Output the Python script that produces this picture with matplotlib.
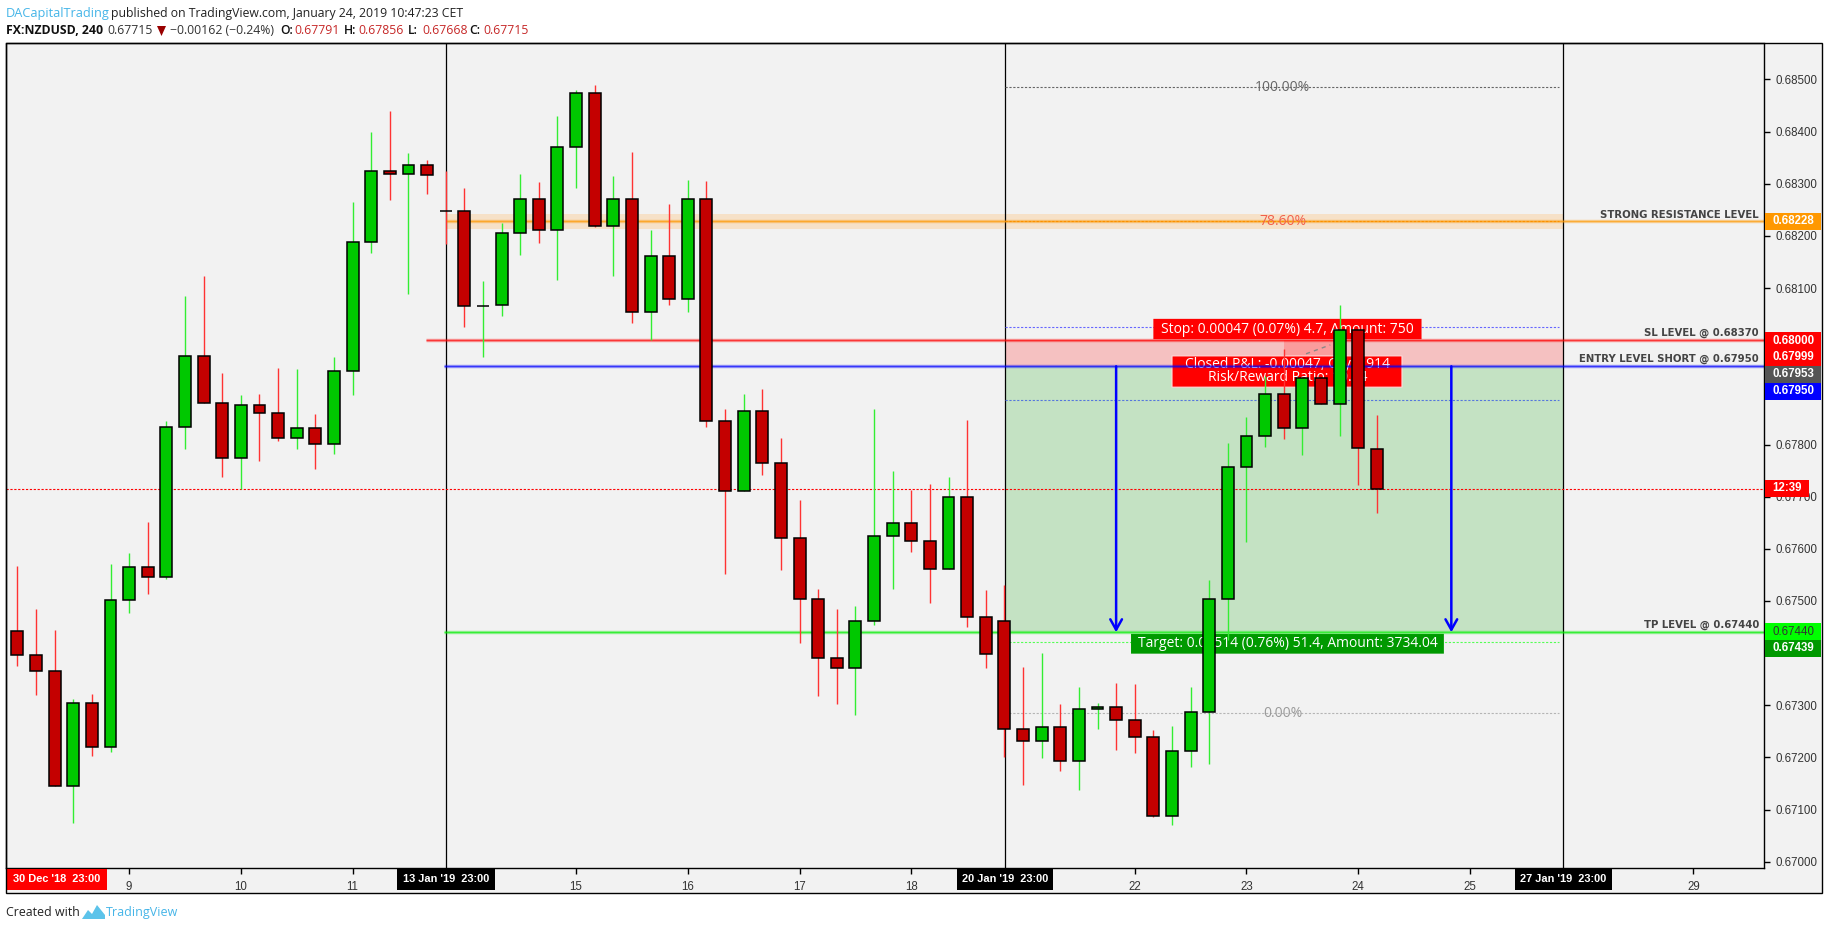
#!/usr/bin/env python3
"""NZDUSD 4h chart with a short position drawn on it (TradingView snapshot)."""
import matplotlib
matplotlib.use("Agg")
import matplotlib.pyplot as plt
from matplotlib.patches import Rectangle, FancyBboxPatch, Polygon

# ─── candles (one entry per 4h bar) ─────────────────────────────────
opens = [
    .67442, .67396, .67365, .67145, .67304, .67220, .67501, .67565, .67546, .67833,
    .67969, .67879, .67774, .67875, .67860, .67812, .67831, .67801, .67941, .68188,
    .68324, .68318, .68336, .68248, .68247, .68065, .68067, .68205, .68270, .68211,
    .68370, .68474, .68220, .68270, .68054, .68161, .68079, .68270, .67845, .67710,
    .67864, .67764, .67620, .67503, .67390, .67371, .67461, .67624, .67649, .67615,
    .67561, .67699, .67469, .67461, .67254, .67231, .67258, .67193, .67292, .67296,
    .67271, .67239, .67087, .67212, .67287, .67503, .67756, .67816, .67896, .67831,
    .67927, .67877, .68019, .67791,
]
highs = [
    .67567, .67485, .67444, .67312, .67322, .67571, .67592, .67652, .67845, .68084,
    .68123, .67937, .67895, .67897, .67947, .67945, .67859, .67968, .68266, .68399,
    .68440, .68359, .68346, .68325, .68292, .68114, .68225, .68319, .68304, .68430,
    .68480, .68490, .68315, .68361, .68211, .68262, .68308, .68306, .67868, .67897,
    .67907, .67813, .67694, .67523, .67485, .67491, .67868, .67749, .67713, .67724,
    .67738, .67847, .67521, .67531, .67374, .67400, .67303, .67335, .67305, .67343,
    .67341, .67253, .67260, .67335, .67540, .67803, .67853, .67932, .67983, .67927,
    .67927, .68068, .68019, .67856,
]
lows = [
    .67376, .67319, .67145, .67075, .67203, .67211, .67477, .67514, .67542, .67792,
    .67879, .67738, .67714, .67769, .67807, .67792, .67754, .67782, .67895, .68168,
    .68268, .68089, .68281, .68185, .68026, .67967, .68047, .68164, .68187, .68116,
    .68291, .68218, .68124, .68034, .68001, .68067, .68055, .67834, .67552, .67710,
    .67742, .67560, .67420, .67318, .67303, .67282, .67454, .67523, .67594, .67496,
    .67561, .67450, .67372, .67201, .67147, .67199, .67174, .67138, .67255, .67214,
    .67209, .67085, .67071, .67182, .67188, .67425, .67613, .67796, .67811, .67779,
    .67877, .67817, .67723, .67668,
]
closes = [
    .67396, .67365, .67145, .67304, .67220, .67501, .67565, .67546, .67833, .67969,
    .67879, .67774, .67875, .67860, .67812, .67831, .67801, .67941, .68188, .68324,
    .68318, .68336, .68316, .68247, .68066, .68066, .68205, .68270, .68211, .68370,
    .68474, .68220, .68270, .68054, .68161, .68079, .68270, .67845, .67710, .67864,
    .67764, .67620, .67503, .67390, .67371, .67461, .67624, .67649, .67615, .67561,
    .67699, .67469, .67398, .67254, .67231, .67258, .67193, .67292, .67296, .67271,
    .67239, .67087, .67212, .67287, .67503, .67756, .67816, .67896, .67831, .67927,
    .67877, .68019, .67793, .67715,
]

# ─── levels ─────────────────────────────────────────────────────────
resistance = 0.68228
resistance_band = (0.68214, 0.68243)
stop_level = 0.68000
entry_level = 0.67950
target_level = 0.67440
last_price = 0.67715
fib_100 = 0.68485
fib_0 = 0.67285
stop_dotted = 0.68026
closed_dotted = 0.67886
target_dotted = 0.67421

# ─── axes labels ────────────────────────────────────────────────────
price_ticks = [.670, .671, .672, .673, .674, .675, .676, .677, .678, .679, .680, .681, .682, .683, .684, .685]
hidden_ticks = [.674, .679, .680]
day_bars = [6, 12, 18, 30, 36, 42, 48, 60, 66, 72, 78, 90]
day_labels = ["9", "10", "11", "15", "16", "17", "18", "22", "23", "24", "25", "29"]
week_bars = [23.04, 53.04, 83.0]
week_labels = ["13 Jan '19  23:00", "20 Jan '19  23:00", "27 Jan '19  23:00"]

W, H = 1828, 930
L, R, T, B = 6, 1764, 43.5, 868
FRAME_R, FRAME_B = 1821.7, 893.3
UI = ["Open Sans", "DejaVu Sans"]
TAG_FONT = "Liberation Sans"

GREEN_BODY, RED_BODY = "#00c800", "#c40000"
GREEN_WICK, RED_WICK = "#33ee33", "#ff3333"

plt.rcParams["font.family"] = UI

fig = plt.figure(figsize=(W / 100, H / 100), dpi=100, facecolor="white")
ax = fig.add_axes([L / W, 1 - B / H, (R - L) / W, (B - T) / H], facecolor="#f2f2f2")
ax.set_xlim(-0.612, 93.79)
ax.set_ylim(0.66988, 0.68569)


def fx(x):
    return x / W


def fy(y):
    return 1 - y / H


def ftext(x, y, s, **kw):
    kw.setdefault("va", "center")
    return fig.text(fx(x), fy(y), s, **kw)


def frect(x0, y0, x1, y1, color, z=5):
    fig.add_artist(Rectangle((fx(x0), fy(y1)), (x1 - x0) / W, (y1 - y0) / H,
                             transform=fig.transFigure, facecolor=color, edgecolor="none", zorder=z))


# bottom / right axis strip sits behind the axes
frect(L, T, FRAME_R, FRAME_B, "#f2f2f2", z=-1)

# ─── position zones ─────────────────────────────────────────────────
x_start, x_end = week_bars[1], week_bars[2]
ax.fill_between([x_start, x_end], entry_level, stop_level, color="#f5c1c1", lw=0, zorder=1)
ax.fill_between([x_start, x_end], target_level, entry_level, color="#c4e2c3", lw=0, zorder=1)
ax.fill_between([68, 71], entry_level, stop_level, color="#fa9c9c", lw=0, zorder=1)
ax.plot([69.2, 70.5], [0.67974, 0.67991], color="#888888", lw=1, ls=(0, (3, 3)), zorder=2)
ax.fill_between([23.04, x_end], *resistance_band, color="#f6e1c8", lw=0, zorder=1)

for x in week_bars:
    ax.axvline(x, color="black", lw=0.9, zorder=2)


# ─── position labels ────────────────────────────────────────────────
def box(xa, xb, ya, yb, color, edge="none"):
    p = FancyBboxPatch((xa, ya), xb - xa, yb - ya, boxstyle="round,pad=0", facecolor=color,
                       edgecolor=edge, lw=0.8, transform=ax.transData, zorder=3)
    ax.add_patch(p)


box(61, 75.4, 0.68002, 0.68041, "#ff0000")
ax.text(68.2, 0.68021, "Stop: 0.00047 (0.07%) 4.7, Amount: 750", color="white", fontsize=10,
        ha="center", va="center", zorder=3.1)
box(62, 74.35, 0.67910, 0.67970, "#ff0000", edge="#ffdddd")
ax.text(68.2, 0.67953, "Closed P&L: -0.00047, Qty: 1914", color="white", fontsize=10,
        ha="center", va="center", zorder=3.1)
ax.text(68.2, 0.67929, "Risk/Reward Ratio: 10.94", color="white", fontsize=10,
        ha="center", va="center", zorder=3.1)
box(59.8, 76.6, 0.67399, 0.67437, "#009900")
ax.text(68.2, 0.67418, "Target: 0.00514 (0.76%) 51.4, Amount: 3734.04", color="white", fontsize=10,
        ha="center", va="center", zorder=3.1)

# ─── levels and dotted lines ────────────────────────────────────────
xr = ax.get_xlim()[1]
for y, c, x0 in [(resistance, "#ff9800", 23.04), (stop_level, "#ff0000", 21.95),
                 (entry_level, "#0000ff", 22.93), (target_level, "#00ee00", 22.93)]:
    ax.plot([x0, xr], [y, y], color=c, lw=2.5, alpha=0.35, solid_capstyle="butt", zorder=3.3)
    ax.plot([x0, xr], [y, y], color=c, lw=1, alpha=0.65, solid_capstyle="butt", zorder=3.4)

dots = (0, (2, 1.5))
ax.plot(ax.get_xlim(), [last_price, last_price], color="#ff0000", lw=0.8, ls=dots, zorder=3.5)
for y, c in [(fib_100, "#666666"), (fib_0, "#b5b5b5"), (stop_dotted, "#6666ff"),
             (closed_dotted, "#5577dd"), (target_dotted, "#55ff55"), (resistance, "#f07800")]:
    ax.plot([x_start, x_end - 0.2], [y, y], color=c, lw=0.8, ls=dots, zorder=2.5)

ax.text(67.95, fib_100, "100.00%", color="#666666", fontsize=10, ha="center", va="center", zorder=3.5)
ax.text(67.95, resistance, "78.60%", color="#f2604c", fontsize=10, ha="center", va="center", zorder=3.5)
ax.text(67.95, fib_0, "0.00%", color="#999999", fontsize=10, ha="center", va="center", zorder=3.5)

# arrows entry -> target
for x in [59, 77]:
    ax.annotate("", xy=(x, target_level), xytext=(x, entry_level), zorder=3.6,
                arrowprops=dict(arrowstyle="->,head_length=0.75,head_width=0.42", color="#0000ff",
                                lw=1.8, shrinkA=0, shrinkB=0))

# ─── candles ────────────────────────────────────────────────────────
for i, (o, h, l, c) in enumerate(zip(opens, highs, lows, closes)):
    up = c >= o
    ax.vlines(i, l, h, color=GREEN_WICK if up else RED_WICK, lw=1, zorder=4)
    ax.bar(i, abs(c - o), bottom=min(o, c), width=0.64, color=GREEN_BODY if up else RED_BODY,
           edgecolor="black", linewidth=1.1, zorder=5)

# ─── axes ───────────────────────────────────────────────────────────
for s in ["left", "right", "top", "bottom"]:
    ax.spines[s].set_linewidth(1.0)
    ax.spines[s].set_zorder(6)

ax.yaxis.tick_right()
ax.set_yticks(price_ticks)
ax.set_yticklabels(["" if p in hidden_ticks else f"{p:.5f}" for p in price_ticks],
                   fontfamily=TAG_FONT, fontsize=8.3, color="#333333")
ax.set_xticks(day_bars + week_bars)
ax.set_xticklabels(day_labels + ["", "", ""], fontfamily=TAG_FONT, fontsize=8.3, color="#333333")
ax.tick_params(axis="y", length=4, width=1, pad=4)
ax.tick_params(axis="x", length=4, width=1, pad=5)

# frame around chart and axis strips
fig.add_artist(Rectangle((fx(L), fy(FRAME_B)), (FRAME_R - L) / W, (FRAME_B - T) / H, transform=fig.transFigure,
                         facecolor="none", edgecolor="black", lw=1.0, zorder=6))

# ─── price tags on the right axis ───────────────────────────────────
tag_rows = [
    (213, 230, "0.68228", "#ff9800", "white"),
    (332, 349, "0.68000", "#ff0000", "white"),
    (349, 365.7, "0.67999", "#ff0000", "white"),
    (365.7, 383, "0.67953", "#555555", "white"),
    (383, 400, "0.67950", "#0000ff", "white"),
    (623, 640, "0.67440", "#00ff00", "#333333"),
    (640, 656.7, "0.67439", "#009900", "white"),
]
for y0, y1, s, bg, fg in tag_rows:
    frect(R + 0.5, y0, FRAME_R - 0.5, y1, bg)
    ftext(R + 8.5, (y0 + y1) / 2, s, color=fg, fontsize=8.3, fontfamily=TAG_FONT,
          fontweight="normal" if fg != "white" else "bold", zorder=7)
frect(R + 0.5, 480, 1809, 496.7, "#ff0000")
ftext(R + 8.5, 488.4, "12:39", color="white", fontsize=8.3, fontfamily=TAG_FONT, fontweight="bold", zorder=7)

# level captions
for y, s in [(214.7, "STRONG RESISTANCE LEVEL"), (333.3, "SL LEVEL @ 0.68370"),
             (359.3, "ENTRY LEVEL SHORT @ 0.67950"), (624.5, "TP LEVEL @ 0.67440")]:
    ftext(1759, y, s, color="#444444", fontsize=7.3, fontfamily="DejaVu Sans", fontweight="bold", ha="right", zorder=7)

# ─── date tags on the bottom axis ───────────────────────────────────
frect(L + 0.5, 868.5, 107, 890, "#ff0000")
ftext(56.5, 879, "30 Dec '18  23:00", color="white", fontsize=7.9, fontfamily=TAG_FONT, fontweight="bold",
      ha="center", zorder=7)
for (x0, x1), s in zip([(397, 495), (957, 1053), (1515, 1612)], week_labels):
    frect(x0, 868.5, x1, 890, "black")
    ftext((x0 + x1) / 2, 879, s, color="white", fontsize=7.9, fontfamily=TAG_FONT, fontweight="bold",
          ha="center", zorder=7)

# ─── header ─────────────────────────────────────────────────────────
ftext(6, 13, "DACapitalTrading", color="#45b5e8", fontsize=9.2)
ftext(111, 13, "published on TradingView.com, January 24, 2019 10:47:23 CET", color="#222222", fontsize=8.8)
ftext(6, 30, "FX:NZDUSD, 240", color="#111111", fontsize=8.8, fontweight="bold")
ftext(107, 30, "0.67715", color="#333333", fontsize=8.8)
fig.add_artist(Polygon([[fx(157), fy(26)], [fx(166), fy(26)], [fx(161.5), fy(36)]], closed=True,
                       transform=fig.transFigure, facecolor="#990000", edgecolor="none"))
ftext(170, 30, "\u22120.00162 (\u22120.24%)", color="#333333", fontsize=8.8)
for x, k, v in [(280, "O:", "0.67791"), (344, "H:", "0.67856"), (408, "L:", "0.67668"), (469, "C:", "0.67715")]:
    ftext(x, 30, k, color="#111111", fontsize=8.8, fontweight="semibold")
    ftext(x + 14, 30, v, color="#c62828", fontsize=8.8)

# ─── footer ─────────────────────────────────────────────────────────
ftext(6, 912, "Created with", color="#222222", fontsize=8.9)
logo = [(82, 919), (88, 910), (92, 914), (97, 905), (105, 915), (105, 919)]
fig.add_artist(Polygon([[fx(a), fy(b)] for a, b in logo], closed=True, transform=fig.transFigure,
                       facecolor="#5cc3ea", edgecolor="none"))
ftext(106, 912, "TradingView", color="#45b5e8", fontsize=9)

fig.savefig("out.png", dpi=100, facecolor="white")
